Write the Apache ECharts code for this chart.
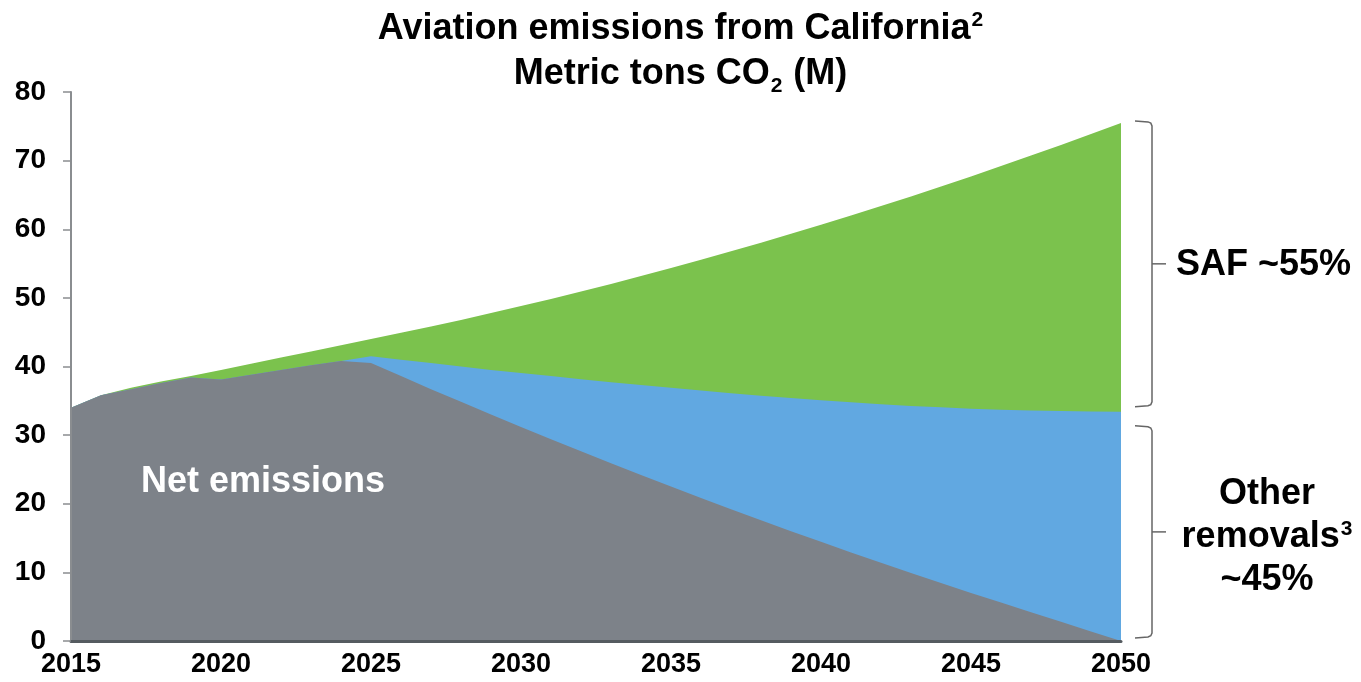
<!DOCTYPE html>
<html><head><meta charset="utf-8">
<script src="https://cdn.jsdelivr.net/npm/echarts@6/dist/echarts.min.js"></script>
<style>html,body{margin:0;padding:0;background:#fff}#c{width:1361px;height:682px}</style>
</head><body><div id="c"></div>
<script>
// ---- data (Mt CO2) ----
const years = [2015,2016,2017,2018,2019,2020,2021,2022,2023,2024,2025,2026,2027,2028,2029,2030,2031,2032,2033,2034,2035,2036,2037,2038,2039,2040,2041,2042,2043,2044,2045,2046,2047,2048,2049,2050];
const netEmissions = [34.0,35.8,36.7,37.6,38.4,38.1,38.8,39.5,40.2,40.8,40.5,38.6,36.7,34.85,33.0,31.2,29.4,27.65,25.9,24.2,22.5,20.85,19.2,17.6,16.0,14.45,12.9,11.4,9.9,8.45,7.0,5.6,4.2,2.8,1.4,0];
const otherRemovals = [0,0,0,0,0,0,0,0,0,0,1.0,2.4,3.8,5.15,6.5,7.85,9.2,10.5,11.8,13.1,14.4,15.65,16.9,18.15,19.4,20.65,21.9,23.1,24.35,25.6,26.85,28.1,29.4,30.7,32.05,33.4];
const safReduction = [0,0,0.2,0.2,0.2,1.4,1.6,1.8,2.0,2.3,2.5,3.9,5.33,6.79,8.28,9.75,11.25,12.78,14.34,15.88,17.45,19.05,20.68,22.29,23.93,25.55,27.2,28.88,30.54,32.18,33.85,35.5,37.13,38.79,40.43,42.1];
const xTickLabels = [2015,2020,2025,2030,2035,2040,2045,2050];
const yTickLabels = [0,10,20,30,40,50,60,70,80];
const titleLine1 = 'Aviation emissions from California';
const titleLine2a = 'Metric tons CO';
const netLabel = 'Net emissions';
const safLabel = 'SAF ~55%';
const otherLabel = ['Other', 'removals', '~45%'];

const FONT = "'Liberation Sans', Arial, Helvetica, sans-serif";
const chart = echarts.init(document.getElementById('c'), null, {renderer: 'canvas'});

// layered (cumulative) areas: each band's top = sum of the components below it
const netTop = netEmissions.slice();
const removalsTop = netEmissions.map((v, i) => v + otherRemovals[i]);
const safTop = removalsTop.map((v, i) => v + safReduction[i]);

function pairs(arr) { return years.map((y, i) => [y, +arr[i].toFixed(2)]); }
function area(name, arr, color, z) {
  return {
    name, type: 'line', data: pairs(arr),
    symbol: 'none', showSymbol: false, smooth: false,
    lineStyle: {width: 0, opacity: 0},
    areaStyle: {color: color, opacity: 1, origin: 'start'},
    emphasis: {disabled: true}, silent: true, z: z
  };
}

const option = {
  animation: false,
  backgroundColor: '#ffffff',
  title: {
    left: 'center', top: 2,
    text: '{t|' + titleLine1 + '}{sup|2}\n{t|' + titleLine2a + '}{sub|2}{t| (M)}',
    textStyle: {
      fontFamily: FONT,
      rich: {
        t: {fontFamily: FONT, fontSize: 36, fontWeight: 'bold', color: '#000', lineHeight: 45},
        sup: {fontFamily: FONT, fontSize: 21, fontWeight: 'bold', color: '#000', lineHeight: 21, verticalAlign: 'top', padding: [3,0,0,1]},
        sub: {fontFamily: FONT, fontSize: 21, fontWeight: 'bold', color: '#000', lineHeight: 21, verticalAlign: 'bottom', padding: [0,1,0,1]}
      }
    }
  },
  grid: {left: 71, right: 240, top: 92, bottom: 41, containLabel: false},
  xAxis: {
    type: 'value', min: years[0], max: years[years.length - 1], interval: 5,
    axisLine: {show: true, onZero: false, lineStyle: {color: '#555b60', width: 3}},
    axisTick: {show: false},
    splitLine: {show: false},
    z: 10,
    axisLabel: {
      fontFamily: FONT, fontSize: 27, fontWeight: 'bold', color: '#000', margin: 10,
      formatter: v => xTickLabels.includes(v) ? String(v) : ''
    }
  },
  yAxis: {
    type: 'value', min: 0, max: 80, interval: 10,
    axisLine: {show: true, lineStyle: {color: '#8a8d90', width: 2}},
    axisTick: {show: true, inside: false, length: 8, lineStyle: {color: '#8a8d90', width: 1.5}},
    splitLine: {show: false},
    z: 10,
    axisLabel: {
      fontFamily: FONT, fontSize: 28, fontWeight: 'bold', color: '#000', margin: 25,
      formatter: v => yTickLabels.includes(v) ? String(v) : ''
    }
  },
  series: [
    area('SAF', safTop, '#7bc24d', 2),
    area('Other removals', removalsTop, '#61a8e1', 3),
    area('Net emissions', netTop, '#7d8289', 4)
  ]
};
chart.setOption(option);

// annotations positioned through the axes
const last = years.length - 1;
const px = (x, y) => chart.convertToPixel({gridIndex: 0}, [x, y]);
const pTop = px(years[last], safTop[last]);
const pMid = px(years[last], removalsTop[last]);
const pZero = px(years[last], 0);
const xv = pTop[0] + 31, x0 = pTop[0] + 14;

function bracketPts(top, bot) {
  const r = 4;
  return [
    [x0, top], [xv - r, top + 1], [xv - 1.2, top + 2.2], [xv, top + r + 1],
    [xv, bot - r - 1], [xv - 1.2, bot - 2.2], [xv - r, bot - 1], [x0, bot]
  ];
}
function bracketEls(top, bot) {
  const mid = (top + bot) / 2;
  return [
    {type: 'polyline', shape: {points: bracketPts(top, bot)}, style: {fill: null, stroke: '#666', lineWidth: 1.5}, silent: true},
    {type: 'line', shape: {x1: xv, y1: mid, x2: xv + 14, y2: mid}, style: {stroke: '#666', lineWidth: 1.5}, silent: true}
  ];
}
const b1t = pTop[1] - 2, b1b = pMid[1] - 5;
const b2t = pMid[1] + 14, b2b = pZero[1] - 3;
const netPos = px(2021.4, 23.1);

chart.setOption({
  graphic: [].concat(bracketEls(b1t, b1b), bracketEls(b2t, b2b), [
    {type: 'text', x: xv + 24, y: (b1t + b1b) / 2 + 1, silent: true,
      style: {text: safLabel, font: 'bold 36px ' + FONT, fill: '#000', align: 'left', verticalAlign: 'middle'}},
    {type: 'text', x: 1267, y: (b2t + b2b) / 2 + 5, silent: true,
      style: {
        text: '{t|' + otherLabel[0] + '}\n{t|' + otherLabel[1] + '}{sup|3}\n{t|' + otherLabel[2] + '}',
        align: 'center', verticalAlign: 'middle',
        rich: {
          t: {fontFamily: FONT, fontSize: 36, fontWeight: 'bold', fill: '#000', lineHeight: 43},
          sup: {fontFamily: FONT, fontSize: 21, fontWeight: 'bold', fill: '#000', lineHeight: 21, verticalAlign: 'top', padding: [3,0,0,1]}
        }
      }},
    {type: 'text', x: netPos[0], y: netPos[1], silent: true, z: 10,
      style: {text: netLabel, font: 'bold 36px ' + FONT, fill: '#ffffff', align: 'center', verticalAlign: 'middle'}}
  ])
});
</script>
</body></html>
